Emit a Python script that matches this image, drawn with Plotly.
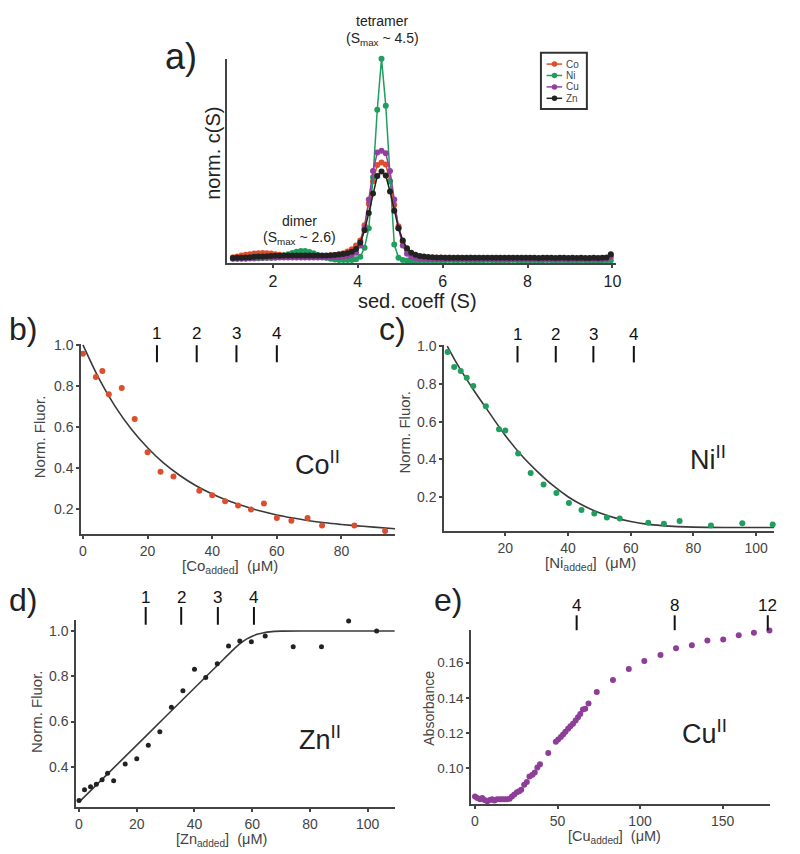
import plotly.graph_objects as go

# ---------------- DATA ----------------
# panel a: sedimentation velocity c(S) distributions
sed_coeff = [1.06, 1.16, 1.26, 1.36, 1.46, 1.56, 1.66, 1.76, 1.86, 1.96,
             2.06, 2.16, 2.26, 2.36, 2.46, 2.56, 2.66, 2.76, 2.86, 2.96,
             3.06, 3.16, 3.26, 3.36, 3.46, 3.56, 3.66, 3.76, 3.86, 3.96,
             4.06, 4.16, 4.26, 4.36, 4.46, 4.56, 4.66, 4.76, 4.86, 4.96,
             5.06, 5.16, 5.26, 5.36, 5.46, 5.56, 5.66, 5.76, 5.86, 5.96,
             6.06, 6.16, 6.26, 6.36, 6.46, 6.56, 6.66, 6.76, 6.86, 6.96,
             7.06, 7.16, 7.26, 7.36, 7.46, 7.56, 7.66, 7.76, 7.86, 7.96,
             8.06, 8.16, 8.26, 8.36, 8.46, 8.56, 8.66, 8.76, 8.86, 8.96,
             9.06, 9.16, 9.26, 9.36, 9.46, 9.56, 9.66, 9.76, 9.86, 9.96]
cs_co = [0.028, 0.032, 0.036, 0.040, 0.043, 0.046, 0.048, 0.049, 0.048, 0.046,
         0.043, 0.040, 0.037, 0.035, 0.033, 0.032, 0.031, 0.031, 0.031, 0.032,
         0.032, 0.033, 0.034, 0.036, 0.039, 0.043, 0.048, 0.056, 0.067, 0.085,
         0.110, 0.185, 0.290, 0.400, 0.480, 0.492, 0.482, 0.400, 0.285, 0.180,
         0.105, 0.063, 0.043, 0.034, 0.030, 0.028, 0.027, 0.026, 0.026, 0.025,
         0.025, 0.025, 0.024, 0.025, 0.024, 0.024, 0.025, 0.024, 0.024, 0.024,
         0.024, 0.023, 0.024, 0.024, 0.023, 0.023, 0.024, 0.023, 0.023, 0.023,
         0.023, 0.023, 0.022, 0.023, 0.023, 0.022, 0.022, 0.023, 0.022, 0.022,
         0.022, 0.022, 0.022, 0.021, 0.022, 0.022, 0.021, 0.022, 0.024, 0.036]
cs_ni = [0.020, 0.020, 0.021, 0.021, 0.022, 0.022, 0.023, 0.024, 0.025, 0.026,
         0.028, 0.031, 0.036, 0.042, 0.049, 0.055, 0.059, 0.058, 0.054, 0.047,
         0.039, 0.031, 0.025, 0.020, 0.017, 0.015, 0.014, 0.014, 0.015, 0.018,
         0.030, 0.075, 0.170, 0.420, 0.750, 1.000, 0.770, 0.400, 0.090, 0.026,
         0.015, 0.012, 0.012, 0.012, 0.013, 0.013, 0.013, 0.013, 0.013, 0.013,
         0.013, 0.014, 0.013, 0.013, 0.014, 0.013, 0.013, 0.012, 0.013, 0.013,
         0.014, 0.013, 0.013, 0.012, 0.013, 0.013, 0.014, 0.013, 0.012, 0.013,
         0.013, 0.013, 0.012, 0.013, 0.014, 0.013, 0.012, 0.013, 0.013, 0.012,
         0.013, 0.012, 0.013, 0.013, 0.012, 0.013, 0.012, 0.012, 0.013, 0.012]
cs_cu = [0.022, 0.022, 0.023, 0.023, 0.024, 0.024, 0.025, 0.025, 0.026, 0.026,
         0.026, 0.027, 0.027, 0.027, 0.027, 0.027, 0.027, 0.027, 0.027, 0.027,
         0.027, 0.027, 0.027, 0.028, 0.028, 0.029, 0.031, 0.034, 0.039, 0.050,
         0.085, 0.170, 0.310, 0.450, 0.540, 0.549, 0.537, 0.450, 0.310, 0.170,
         0.085, 0.045, 0.030, 0.024, 0.021, 0.020, 0.019, 0.019, 0.019, 0.018,
         0.018, 0.018, 0.019, 0.018, 0.018, 0.018, 0.018, 0.017, 0.018, 0.018,
         0.018, 0.018, 0.017, 0.018, 0.018, 0.017, 0.018, 0.018, 0.017, 0.018,
         0.017, 0.018, 0.018, 0.017, 0.017, 0.018, 0.017, 0.017, 0.018, 0.017,
         0.017, 0.017, 0.018, 0.017, 0.017, 0.017, 0.017, 0.018, 0.020, 0.030]
cs_zn = [0.024, 0.025, 0.026, 0.027, 0.028, 0.030, 0.031, 0.032, 0.033, 0.034,
         0.035, 0.035, 0.036, 0.036, 0.036, 0.036, 0.036, 0.036, 0.036, 0.036,
         0.036, 0.036, 0.037, 0.038, 0.039, 0.041, 0.044, 0.048, 0.055, 0.068,
         0.100, 0.160, 0.245, 0.340, 0.425, 0.447, 0.428, 0.350, 0.255, 0.170,
         0.110, 0.072, 0.050, 0.040, 0.034, 0.031, 0.029, 0.028, 0.027, 0.027,
         0.026, 0.026, 0.026, 0.026, 0.026, 0.026, 0.025, 0.026, 0.026, 0.025,
         0.025, 0.026, 0.025, 0.025, 0.025, 0.026, 0.025, 0.025, 0.025, 0.025,
         0.025, 0.025, 0.024, 0.025, 0.025, 0.025, 0.024, 0.025, 0.025, 0.024,
         0.025, 0.024, 0.025, 0.024, 0.024, 0.025, 0.024, 0.025, 0.027, 0.043]
series_names = ["Co", "Ni", "Cu", "Zn"]

# panel b: Co titration
co_x = [0, 4, 6, 8, 12, 16, 20, 24, 28, 36, 40, 44, 48, 52, 56, 60, 64.5, 69.5, 74, 84, 93.5]
co_y = [0.957, 0.844, 0.873, 0.76, 0.79, 0.64, 0.478, 0.383, 0.36, 0.291, 0.269, 0.24,
        0.219, 0.2, 0.229, 0.158, 0.145, 0.158, 0.122, 0.122, 0.095]
co_fit_x = [0, 5, 10, 15, 20, 25, 30, 35, 40, 45, 50, 55, 60, 65, 70, 75, 80, 85, 90, 96.6]
co_fit_y = [1.0, 0.835, 0.70, 0.59, 0.50, 0.425, 0.365, 0.315, 0.275, 0.242, 0.215, 0.192,
            0.173, 0.158, 0.145, 0.135, 0.127, 0.12, 0.114, 0.106]
co_marks = [22.9, 35.2, 47.5, 60.0]

# panel c: Ni titration
ni_x = [1.6, 3.7, 5.8, 7.7, 9.8, 13.8, 18, 20, 24.1, 28.1, 32.2, 36.3, 40.3, 44.3, 48.4,
        52.4, 56.5, 65.6, 70.6, 75.6, 85.6, 95.6, 105.3]
ni_y = [0.968, 0.889, 0.868, 0.832, 0.788, 0.681, 0.56, 0.553, 0.432, 0.328, 0.267, 0.223,
        0.17, 0.133, 0.114, 0.093, 0.088, 0.065, 0.06, 0.074, 0.051, 0.063, 0.056]
ni_fit_x = [1.5, 5, 10, 15, 20, 25, 30, 35, 40, 45, 50, 55, 60, 65, 70, 75, 80, 90, 100, 105.8]
ni_fit_y = [1.0, 0.895, 0.765, 0.645, 0.527, 0.425, 0.34, 0.265, 0.203, 0.155, 0.118, 0.091,
            0.072, 0.058, 0.05, 0.045, 0.042, 0.04, 0.04, 0.04]
ni_marks = [23.9, 36.1, 48.1, 61.0]

# panel d: Zn titration
zn_x = [0, 1.9, 4, 6, 8, 9.9, 12, 16, 20, 24, 28, 32, 36, 40, 43.9, 47.9, 51.8, 55.7,
        59.7, 64.5, 74.2, 84, 93.4, 103.1]
zn_y = [0.251, 0.299, 0.312, 0.323, 0.343, 0.372, 0.339, 0.412, 0.436, 0.495, 0.555, 0.663,
        0.736, 0.831, 0.794, 0.855, 0.933, 0.956, 0.952, 0.978, 0.93, 0.93, 1.044, 1.0]
zn_fit_x = [0, 10, 20, 30, 40, 50, 54, 56, 58, 60, 62, 64, 66, 70, 80, 109.4]
zn_fit_y = [0.244, 0.37, 0.496, 0.622, 0.748, 0.874, 0.924, 0.946, 0.964, 0.977, 0.986,
            0.992, 0.996, 0.999, 1.0, 1.0]
zn_marks = [23.1, 35.4, 48.1, 60.6]
stoich_labels = ["1", "2", "3", "4"]

# panel e: Cu absorbance titration
cu_x = [0, 1.4, 3, 4.4, 5.8, 7.4, 9, 10.4, 11.8, 13.4, 15, 16.4, 17.8, 19.4, 21, 22.4,
        23.8, 25.4, 26.8, 28, 29.8, 31.4, 33, 34.8, 36.2, 37.8, 39.4, 44.4, 49, 50.4, 52,
        53.4, 54.8, 56.4, 57.8, 59.4, 61, 62.4, 63.8, 65.4, 66.8, 68.8, 73.8, 83.6, 93.2,
        102.6, 112.4, 121.8, 131.4, 140.8, 150.4, 159.8, 169, 178.4]
cu_y = [0.0841, 0.0833, 0.0826, 0.0833, 0.0822, 0.0814, 0.0822, 0.0826, 0.0818, 0.0826,
        0.0826, 0.0826, 0.0826, 0.0826, 0.0829, 0.0841, 0.0852, 0.0865, 0.0871, 0.088,
        0.0908, 0.0923, 0.0955, 0.0964, 0.0977, 0.1006, 0.1024, 0.1088, 0.1152, 0.1165,
        0.1178, 0.1193, 0.1208, 0.1225, 0.124, 0.1253, 0.1272, 0.1291, 0.1309, 0.1334,
        0.1339, 0.1369, 0.1433, 0.1502, 0.1564, 0.1609, 0.1643, 0.1681, 0.1699, 0.1726,
        0.1731, 0.1756, 0.1769, 0.1782]
cu_marks = [61.6, 121.0, 177.4]
cu_labels = ["4", "8", "12"]

# ---------------- STYLE / LAYOUT ----------------
FONT = "Liberation Sans, Arial, Helvetica, sans-serif"
C_CO, C_NI, C_CU, C_ZN = "#dd4f2c", "#1f9e5d", "#94409f", "#222222"
AXC = "#444444"
FIT = "#3a3a3a"
W, H = 800, 854
OFF = 8  # page body margin offset of the rendered figure


def X(px):
    return (px - OFF) / W


def Y(py):
    return 1 - (py - OFF) / H


fig = go.Figure()

# panel a traces
for name, vals, col in zip(series_names, [cs_co, cs_ni, cs_cu, cs_zn], [C_CO, C_NI, C_CU, C_ZN]):
    fig.add_trace(go.Scatter(x=sed_coeff, y=vals, mode="lines+markers", name=name,
                             line=dict(color=col, width=1.5), marker=dict(color=col, size=6),
                             xaxis="x", yaxis="y", cliponaxis=False, showlegend=False))


def titration(xa, ya, px, py, col, size, fx=None, fy=None):
    if fx is not None:
        fig.add_trace(go.Scatter(x=fx, y=fy, mode="lines", line=dict(color=FIT, width=1.6, shape="spline"),
                                 xaxis=xa, yaxis=ya, showlegend=False, hoverinfo="skip"))
    fig.add_trace(go.Scatter(x=px, y=py, mode="markers", marker=dict(color=col, size=size),
                             xaxis=xa, yaxis=ya, cliponaxis=False, showlegend=False))


titration("x2", "y2", co_x, co_y, C_CO, 6, co_fit_x, co_fit_y)
titration("x3", "y3", ni_x, ni_y, C_NI, 6, ni_fit_x, ni_fit_y)
titration("x4", "y4", zn_x, zn_y, C_ZN, 5, zn_fit_x, zn_fit_y)
titration("x5", "y5", cu_x, cu_y, "#8e3d98", 6)


def axis(domain, rng, anchor, **kw):
    d = dict(domain=domain, range=rng, anchor=anchor, showline=True, linecolor=AXC, linewidth=2,
             showgrid=False, zeroline=False, ticks="outside", ticklen=3, tickwidth=1.5,
             tickcolor=AXC, tickfont=dict(size=14, color="#444444", family=FONT))
    d.update(kw)
    return d


layout = dict(
    width=W, height=H, autosize=False,
    margin=dict(l=0, r=0, t=0, b=0),
    paper_bgcolor="white", plot_bgcolor="white",
    font=dict(family=FONT, color="#222222"),
    showlegend=False,
    xaxis=axis([X(227), X(620)], [0.916, 10.08], "y", tickvals=[2, 4, 6, 8, 10], ticklen=3,
               tickfont=dict(size=16, color="#222222", family=FONT)),
    yaxis=axis([Y(258), Y(52)], [0, 1.0], "x", showticklabels=False, ticks=""),
    xaxis2=axis([X(80), X(397)], [-0.52, 96.6], "y2", tickvals=[0, 20, 40, 60, 80]),
    yaxis2=axis([Y(531), Y(340)], [0.082, 1.003], "x2", tickvals=[0.2, 0.4, 0.6, 0.8, 1.0],
                tickformat=".1f"),
    xaxis3=axis([X(446.7), X(780)], [0.55, 105.8], "y3", tickvals=[20, 40, 60, 80, 100]),
    yaxis3=axis([Y(528), Y(341)], [0.023, 1.004], "x3", tickvals=[0.2, 0.4, 0.6, 0.8, 1.0],
                tickformat=".1f"),
    xaxis4=axis([X(75), X(396.7)], [-0.93, 109.4], "y4", tickvals=[0, 20, 40, 60, 80, 100]),
    yaxis4=axis([Y(806.7), Y(617.6)], [0.222, 1.05], "x4", tickvals=[0.4, 0.6, 0.8, 1.0],
                tickformat=".1f"),
    xaxis5=axis([X(474), X(776.1)], [-2.2, 179], "y5", tickvals=[0, 50, 100, 150]),
    yaxis5=axis([Y(804), Y(628.1)], [0.0796, 0.1785], "x5", tickvals=[0.10, 0.12, 0.14, 0.16],
                tickformat=".2f", tickfont=dict(size=13.5, color="#444444", family=FONT)),
)
fig.update_layout(**layout)

ann = []
shapes = []


def note(text, x, y, size, color="#222222", xref="paper", yref="paper", angle=0, xanchor="center"):
    ann.append(dict(text=text, x=x, y=y, xref=xref, yref=yref, showarrow=False, textangle=angle,
                    xanchor=xanchor, yanchor="middle",
                    font=dict(size=size, color=color, family=FONT)))


def stoich(xa, marks, labels, bar_top, bar_bot, lab_py):
    for m, lab in zip(marks, labels):
        shapes.append(dict(type="line", xref=xa, yref="paper", x0=m, x1=m, y0=Y(bar_bot), y1=Y(bar_top),
                           line=dict(color="#111111", width=2)))
        note(lab, m, Y(lab_py), 17, color="#111111", xref=xa)


stoich("x2", co_marks, stoich_labels, 341, 358, 329)
stoich("x3", ni_marks, stoich_labels, 341.7, 358.3, 330)
stoich("x4", zn_marks, stoich_labels, 605, 622.7, 595)
stoich("x5", cu_marks, cu_labels, 613.3, 628.3, 603)

# panel labels
note("a)", X(181), Y(50), 36)
note("b)", X(21), Y(325), 32)
note("c)", X(394), Y(325), 32)
note("d)", X(21), Y(598), 32)
note("e)", X(450), Y(598), 32)

# panel a texts
note("tetramer", X(384), Y(14), 14)
note("(S<sub>max</sub> ~ 4.5)", X(384), Y(32), 14)
note("dimer", X(300), Y(216), 14)
note("(S<sub>max</sub> ~ 2.6)", X(300), Y(233), 14)
note("norm. c(S)", X(213), Y(147), 20, angle=-90)
note("sed. coeff (S)", X(420), Y(296), 20)

# axis titles for b-e
note("Norm. Fluor.", X(38), Y(433), 15, color="#444444", angle=-90)
note("[Co<sub>added</sub>]  (μM)", X(230), Y(564), 15, color="#444444")
note("Norm. Fluor.", X(406.7), Y(428.3), 15, color="#444444", angle=-90)
note("[Ni<sub>added</sub>]  (μM)", X(594), Y(561), 15, color="#444444")
note("Norm. Fluor.", X(35), Y(710), 15, color="#444444", angle=-90)
note("[Zn<sub>added</sub>]  (μM)", X(221.7), Y(840), 14.5, color="#444444")
note("Absorbance", X(431), Y(706.7), 14, color="#444444", angle=-90)
note("[Cu<sub>added</sub>]  (μM)", X(618.3), Y(837), 14.5, color="#444444")

# metal labels (data coordinates)
note("Co<sup>II</sup>", 72.7, 0.425, 27, xref="x2", yref="y2")
note("Ni<sup>II</sup>", 84.6, 0.407, 27, xref="x3", yref="y3")
note("Zn<sup>II</sup>", 83.4, 0.527, 27, xref="x4", yref="y4")
note("Cu<sup>II</sup>", 138.8, 0.1206, 27, xref="x5", yref="y5")

# manual legend for panel a
shapes.append(dict(type="rect", xref="paper", yref="paper", x0=X(544.3), x1=X(590.7),
                   y0=Y(102.7), y1=Y(46), line=dict(color="#333333", width=2), fillcolor="white"))
leg_py = [57.5, 69, 80.5, 92]
for name, col, py in zip(series_names, [C_CO, C_NI, C_CU, C_ZN], leg_py):
    shapes.append(dict(type="line", xref="paper", yref="paper", x0=X(550), x1=X(565.7),
                       y0=Y(py), y1=Y(py), line=dict(color=col, width=1.5)))
    shapes.append(dict(type="circle", xref="paper", yref="paper", x0=X(555.2), x1=X(560.8),
                       y0=Y(py + 2.8), y1=Y(py - 2.8), fillcolor=col, line=dict(color=col, width=0)))
    note(name, X(567.7), Y(py), 10, color="#444444", xanchor="left")

fig.update_layout(annotations=ann, shapes=shapes)
fig.write_html("out.html")
